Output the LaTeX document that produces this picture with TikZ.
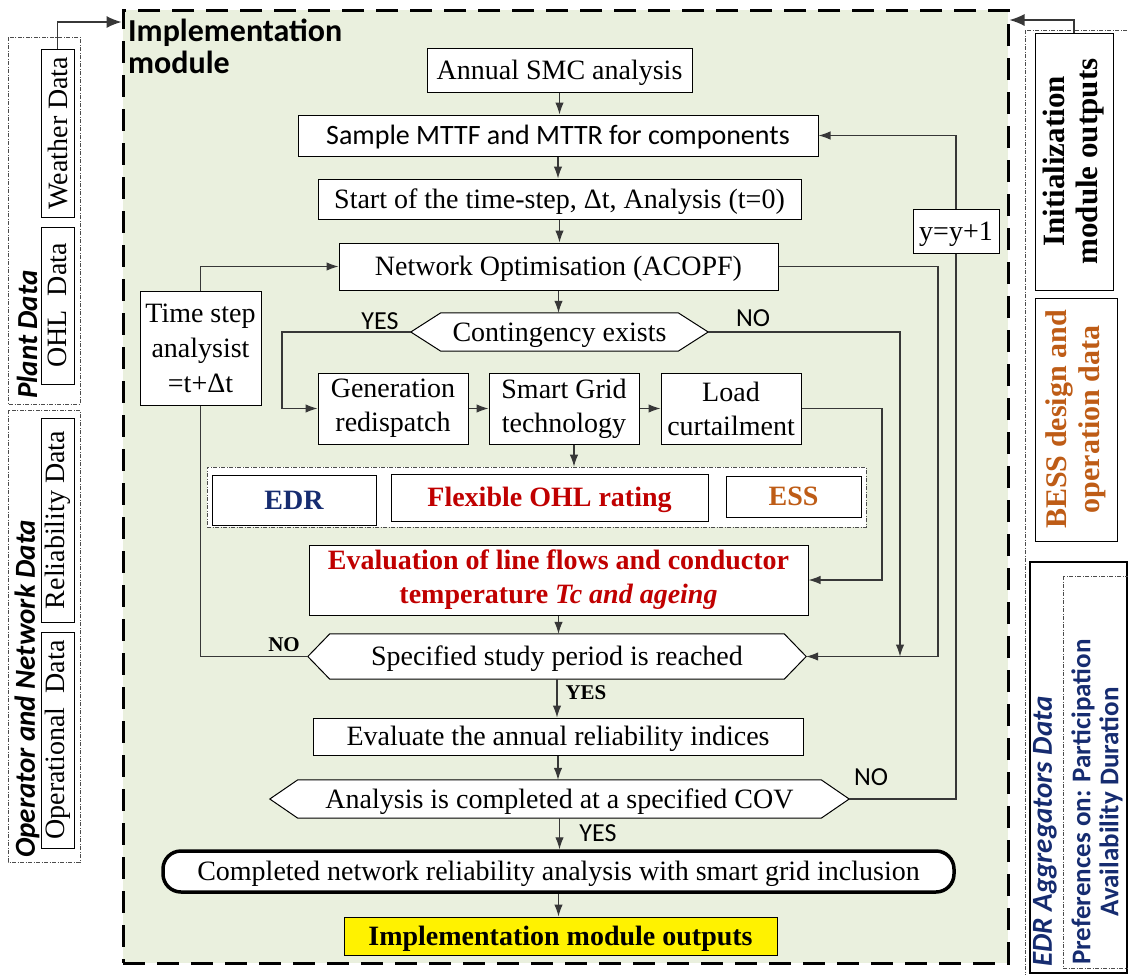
\documentclass[tikz,border=0pt]{standalone}
\usepackage{fontspec}
\setmainfont{Liberation Serif}
\newfontfamily\calfont{Carlito}
\usetikzlibrary{arrows.meta,calc}

\definecolor{modgreen}{RGB}{234,240,222}
\definecolor{navy}{RGB}{22,44,112}
\definecolor{darkred}{RGB}{192,0,0}
\definecolor{rust}{RGB}{190,92,22}
\definecolor{linegray}{RGB}{55,55,55}

% chamfered (hexagonal) outline around a geometry node
\newcommand{\hexframe}[2]{%
  \draw[fill=white, line width=1pt] (#1.west) -- ([xshift=#2]#1.north west) -- ([xshift=-#2]#1.north east)
    -- (#1.east) -- ([xshift=-#2]#1.south east) -- ([xshift=#2]#1.south west) -- cycle;}

\begin{document}
\begin{tikzpicture}[x=1pt,y=-1pt,
  oneline/.style={text height=21.5pt, text depth=3pt},
  txt/.style={inner sep=0pt, oneline, font=\fontsize{28}{34}\selectfont},
  box/.style={draw=black, fill=white, line width=1pt, inner sep=0pt, align=center,
              font=\fontsize{28}{34}\selectfont},
  hexgeom/.style={inner sep=0pt, draw=none},
  arr/.style={draw=linegray, line width=1.1pt, -{Latex[length=12pt,width=8.5pt]}},
  wire/.style={draw=linegray, line width=1.1pt},
  bigarr/.style={draw=linegray, line width=1.3pt, -{Latex[length=15pt,width=12pt]}},
  ddot/.style={draw=gray!60!black, line width=0.8pt, dash pattern=on 4pt off 1.5pt on 1pt off 1.5pt},
  sidebox/.style={draw, fill=white, line width=1pt, rotate=90, inner sep=0pt,
                  minimum height=33pt, font=\fontsize{28}{34}\selectfont},
  sidelabel/.style={rotate=90, inner sep=0pt, font=\calfont\bfseries\itshape\fontsize{29}{34}\selectfont},
  sanslabel/.style={inner sep=0pt, font=\calfont\fontsize{26}{30}\selectfont},
  boldlabel/.style={inner sep=0pt, font=\bfseries\fontsize{21}{24}\selectfont},
]
\useasboundingbox (0,0) rectangle (1128,975);

% ---------------- implementation module frame ----------------
\node[draw, line width=3pt, dash pattern=on 22pt off 12pt, fill=modgreen, inner sep=0pt,
      minimum width=885, minimum height=953] (module) at (565.5,486.5) {};
\node[anchor=north west, align=left, inner sep=0pt,
      font=\calfont\bfseries\fontsize{32}{32}\selectfont] (title) at (128,19) {Implementation\\module};

% ---------------- left inputs ----------------
\draw[ddot] (8,37) rectangle (80,404);
\draw[ddot] (8,410) rectangle (80,862);
\node[sidebox, minimum width=168] (weather) at (57.5,133) {Weather Data};
\node[sidebox, minimum width=157] (ohl) at (57.5,305.5) {OHL\ \ Data};
\node[sidebox, minimum width=204] (reldata) at (57.5,520) {Reliability Data};
\node[sidebox, minimum width=216] (opdata) at (57.5,740) {Operational\ \ Data};
\node[sidelabel, anchor=west] (plant) at (27,399) {Plant Data};
\node[sidelabel, anchor=west] (opnet) at (27,858) {Operator and Network Data};

% ---------------- right inputs ----------------
\draw[ddot] (1025,30) rectangle (1140,990);
\node[draw, fill=white, line width=1pt, rotate=90, inner sep=0pt, minimum width=257, minimum height=78,
      align=center, font=\bfseries\fontsize{31}{33}\selectfont] (init) at (1074,161.5)
      {Initialization\\module outputs};
\node[draw, fill=white, line width=1pt, rotate=90, inner sep=0pt, minimum width=243, minimum height=82,
      align=center, text=rust, font=\bfseries\fontsize{30}{33}\selectfont] (bess) at (1076,419.5)
      {BESS design and\\operation data};
\draw[line width=2pt, fill=white] (1030,562) rectangle (1127,973);
\draw[ddot] (1063,576) rectangle (1140,968);
\node[sidelabel, anchor=west, text=navy] (edragg) at (1045,967) {EDR Aggregators Data};
\node[rotate=90, inner sep=0pt, align=center, text=navy,
      font=\calfont\bfseries\fontsize{27}{28}\selectfont] (prefs) at (1097,802)
      {Preferences on: Participation\\Availability Duration};

\coordinate (wy) at (0,22);
\coordinate (iy) at (0,20);
\draw[bigarr] (weather.east) |- (module.west |- wy);
\draw[bigarr] (init.east) |- (module.east |- iy);

% ---------------- flow chart ----------------
\node[box, oneline, minimum width=265, minimum height=44] (annual) at (559.5,70) {Annual SMC analysis};
\node[box, oneline, minimum width=520, minimum height=41, font=\calfont\fontsize{28}{34}\selectfont] (sample) at (558,135.5)
      {Sample MTTF and MTTR for components};
\node[box, oneline, minimum width=483, minimum height=40] (start) at (559.5,199) {Start of the time-step, Δt, Analysis (t=0)};
\node[box, oneline, minimum width=439, minimum height=47] (netopt) at (558.5,266.5) {Network Optimisation (ACOPF)};

\node[hexgeom, minimum width=297, minimum height=38] (cont) at (559.5,332) {};
\hexframe{cont}{30pt}
\node[txt] (contT) at (cont) {Contingency exists};

\node[box, minimum width=121, minimum height=114, font=\fontsize{28}{35}\selectfont] (timestep) at (200.5,348)
      {Time step\\analysist\\=t+Δt};

\node[box, minimum width=150, minimum height=71] (gen) at (393,408.5) {\raisebox{-2pt}{Generation}\\\raisebox{-2pt}{redispatch}};
\node[box, minimum width=150, minimum height=71] (smart) at (564,408.5) {\raisebox{-2pt}{Smart Grid}\\\raisebox{-2pt}{technology}};
\node[box, minimum width=140, minimum height=71] (load) at (731,408.5) {\raisebox{-2pt}{Load}\\\raisebox{-2pt}{curtailment}};

\node[ddot, fill=white, inner sep=0pt, minimum width=659, minimum height=60] (group) at (536.5,497) {};
\node[box, oneline, minimum width=164, minimum height=50, text=navy, font=\bfseries\fontsize{28}{34}\selectfont] (edr) at (294,500) {EDR};
\node[box, oneline, minimum width=317, minimum height=47, text=darkred, font=\bfseries\fontsize{28}{34}\selectfont] (flex) at (549.5,497.5) {Flexible OHL rating};
\node[box, oneline, minimum width=135, minimum height=41, text=rust, font=\bfseries\fontsize{28}{34}\selectfont] (ess) at (793.5,496.5) {ESS};

\node[box, minimum width=499, minimum height=70, text=darkred, font=\bfseries\fontsize{28}{34}\selectfont] (evalf) at (558.5,580)
      {\raisebox{-3pt}{Evaluation of line flows and conductor}\\\raisebox{-3pt}{temperature \textit{Tc and ageing}}};

\node[hexgeom, minimum width=498, minimum height=45] (spec) at (557,656.5) {};
\hexframe{spec}{22pt}
\node[txt] (specT) at (spec) {Specified study period is reached};

\node[box, oneline, minimum width=490, minimum height=37] (evann) at (558,736.5) {Evaluate the annual reliability indices};

\node[hexgeom, minimum width=579, minimum height=38] (cov) at (559.5,799) {};
\hexframe{cov}{28pt}
\node[txt] (covT) at (cov) {Analysis is completed at a specified COV};

\node[box, oneline, line width=3.5pt, rounded corners=18pt, minimum width=791, minimum height=41] (done) at (558.5,871.5)
      {Completed network reliability analysis with smart grid inclusion};
\node[box, oneline, fill=yellow, minimum width=433, minimum height=38, font=\bfseries\fontsize{28}{34}\selectfont] (outputs) at (560.5,936)
      {Implementation module outputs};

\node[box, oneline, minimum width=86, minimum height=44] (yy) at (956,231) {y=y+1};

% ---------------- connectors ----------------
\coordinate (cYes) at (282,332);
\coordinate (cNo) at (900,332);
\coordinate (cOpt) at (938,266);
\coordinate (cLoad) at (882,408);
\coordinate (sg) at ([xshift=10pt]smart.south);

\draw[arr] (annual.south) -- (annual.south |- sample.north);
\draw[arr] (sample.south) -- (sample.south |- start.north);
\draw[arr] (start.south) -- (start.south |- netopt.north);
\draw[arr] (netopt.south) -- (netopt.south |- cont.north);
\draw[arr] (cont.west) -| (cYes |- gen.west) -- (gen.west);
\draw[arr] (cont.east) -| (cNo |- spec.east);
\draw[arr] (netopt.east) -| (cOpt |- spec.east) -- (spec.east);
\draw[arr] (gen.east) -- (smart.west);
\draw[arr] (smart.east) -- (load.west);
\draw[arr] (sg) -- (sg |- group.north);
\draw[arr] (load.east) -| (cLoad |- evalf.east) -- (evalf.east);
\draw[arr] (evalf.south) -- (evalf.south |- spec.north);
\draw[wire] (spec.west) -| (timestep.south);
\draw[arr] (timestep.north) |- (netopt.west);
\draw[arr] (spec.south) -- (spec.south |- evann.north);
\draw[arr] (evann.south) -- (evann.south |- cov.north);
\draw[wire] (cov.east) -| (yy.south);
\draw[arr] (yy.north) |- (sample.east);
\draw[arr] (cov.south) -- (cov.south |- done.north);
\draw[arr] (done.south) -- (done.south |- outputs.north);

% ---------------- branch labels ----------------
\node[sanslabel] (lYes1) at (380,321) {YES};
\node[sanslabel] (lNo1) at (753,318) {NO};
\node[boldlabel] (lNo2) at (284,645) {NO};
\node[boldlabel] (lYes2) at (586,693) {YES};
\node[sanslabel] (lNo3) at (871,777) {NO};
\node[sanslabel] (lYes3) at (598,833) {YES};
\end{tikzpicture}
\end{document}
